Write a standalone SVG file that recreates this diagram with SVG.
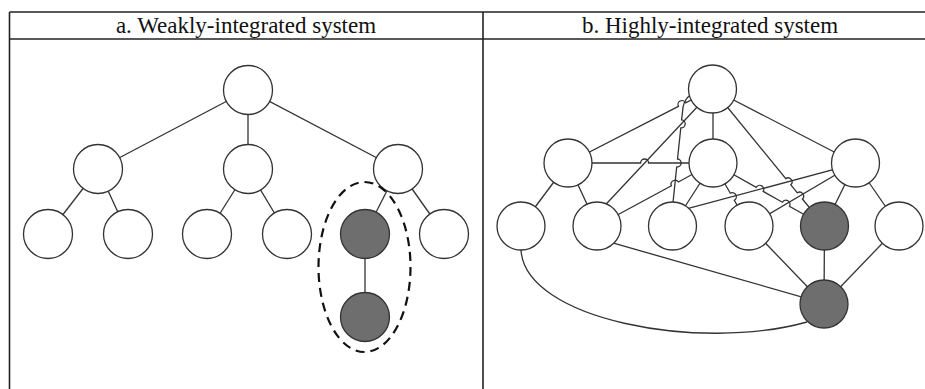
<svg xmlns="http://www.w3.org/2000/svg" width="925" height="389" viewBox="0 0 925 389">
<style>
.frame{stroke:#222;stroke-width:1.6;fill:none}
.hdr{font-family:"Liberation Serif","Times New Roman",serif;font-size:23px;fill:#111;text-anchor:middle}
.edge{stroke:#333;stroke-width:1.3;fill:none}
.node{fill:#fff;stroke:#333;stroke-width:1.3}
.dark{fill:#6e6e6e;stroke:#333;stroke-width:1.3}
.group{fill:none;stroke:#111;stroke-width:2.2;stroke-dasharray:9 6}
</style>
<rect width="925" height="389" fill="#fff"/>
<g id="frame">
<line class="frame" x1="9.5" y1="12" x2="925" y2="12"/>
<line class="frame" x1="9.5" y1="39" x2="925" y2="39"/>
<line class="frame" x1="9.5" y1="12" x2="9.5" y2="389"/>
<line class="frame" x1="483" y1="12" x2="483" y2="389"/>
<text class="hdr" x="246" y="33">a. Weakly-integrated system</text>
<text class="hdr" x="710" y="33">b. Highly-integrated system</text>
</g>
<g id="connectors">
<!-- panel a -->
<line class="edge" x1="248" y1="90" x2="98" y2="169"/>
<line class="edge" x1="248" y1="90" x2="248" y2="169"/>
<line class="edge" x1="248" y1="90" x2="398" y2="169"/>
<line class="edge" x1="98" y1="169" x2="48" y2="234"/>
<line class="edge" x1="98" y1="169" x2="128" y2="234"/>
<line class="edge" x1="248" y1="169" x2="207" y2="234"/>
<line class="edge" x1="248" y1="169" x2="287" y2="234"/>
<line class="edge" x1="398" y1="169" x2="365" y2="234"/>
<line class="edge" x1="398" y1="169" x2="444" y2="234"/>
<line class="edge" x1="365" y1="234" x2="365" y2="317"/>
<!-- panel b -->
<path class="edge" d="M568,163 L678.4,106.4 A4,4 0 0 1 685.6,102.8 L712.5,89"/>
<line class="edge" x1="713" y1="89" x2="713" y2="163"/>
<line class="edge" x1="712.5" y1="89" x2="855.5" y2="163"/>
<path class="edge" d="M714,89 L595.9,215"/>
<path class="edge" d="M689,96 Q683,101 682.5,112 L681.6,119.9 A4,4 0 0 1 680.8,127.9 L677.5,159 A4,4 0 0 1 676.7,167 L672,212"/>
<path class="edge" d="M712.5,89 L785.8,178.6 A4,4 0 0 1 790.8,184.8 L797.4,192.8 A4,4 0 0 1 802.4,199 L824.5,226"/>
<path class="edge" d="M568,163 L640.6,163 A4,4 0 0 1 648.6,163 L713,163"/>
<line class="edge" x1="568" y1="163" x2="521" y2="226"/>
<line class="edge" x1="568" y1="163" x2="597" y2="226"/>
<path class="edge" d="M597,226 L671.4,185.8 A4,4 0 0 1 678.4,182 L713,163"/>
<line class="edge" x1="713" y1="163" x2="672.5" y2="226"/>
<path class="edge" d="M713,163 L730.3,193.2 A4,4 0 0 1 734.3,200.2 L749,226"/>
<path class="edge" d="M713,163 L756.2,187.4 A4,4 0 0 1 763.2,191.4 L782.4,202.2 A4,4 0 0 1 789.4,206.2 L824.5,226"/>
<line class="edge" x1="672.5" y1="212.7" x2="855.5" y2="163.7"/>
<line class="edge" x1="749" y1="226" x2="855.5" y2="163"/>
<line class="edge" x1="855.5" y1="163" x2="824.5" y2="226"/>
<line class="edge" x1="855.5" y1="163" x2="899" y2="226"/>
<line class="edge" x1="597" y1="238.4" x2="824" y2="303.3"/>
<line class="edge" x1="749" y1="226" x2="824" y2="304"/>
<line class="edge" x1="824.5" y1="226" x2="824" y2="304"/>
<line class="edge" x1="899" y1="226" x2="824" y2="304"/>
<path class="edge" d="M521,250 C525,320 700,352 807,322"/>
</g>
<g id="a-root"><circle class="node" cx="248" cy="90" r="24.5"/></g>
<g id="a-n1"><circle class="node" cx="98" cy="169" r="24.5"/></g>
<g id="a-n2"><circle class="node" cx="248" cy="169" r="24.5"/></g>
<g id="a-n3"><circle class="node" cx="398" cy="169" r="24.5"/></g>
<g id="a-n11"><circle class="node" cx="48" cy="234" r="24.5"/></g>
<g id="a-n12"><circle class="node" cx="128" cy="234" r="24.5"/></g>
<g id="a-n21"><circle class="node" cx="207" cy="234" r="24.5"/></g>
<g id="a-n22"><circle class="node" cx="287" cy="234" r="24.5"/></g>
<g id="a-n31"><circle class="dark" cx="365" cy="234" r="24.5"/></g>
<g id="a-n32"><circle class="node" cx="444" cy="234" r="24.5"/></g>
<g id="a-n311"><circle class="dark" cx="365" cy="317" r="24.5"/></g>
<g id="a-group"><ellipse class="group" cx="364.5" cy="267" rx="46" ry="85"/></g>
<g id="b-top"><circle class="node" cx="712.5" cy="89" r="24"/></g>
<g id="b-left"><circle class="node" cx="568" cy="163" r="24"/></g>
<g id="b-mid"><circle class="node" cx="713" cy="163" r="24"/></g>
<g id="b-right"><circle class="node" cx="855.5" cy="163" r="24"/></g>
<g id="b-l1"><circle class="node" cx="521" cy="226" r="24"/></g>
<g id="b-l2"><circle class="node" cx="597" cy="226" r="24"/></g>
<g id="b-l3"><circle class="node" cx="672.5" cy="226" r="24"/></g>
<g id="b-l4"><circle class="node" cx="749" cy="226" r="24"/></g>
<g id="b-l5"><circle class="dark" cx="824.5" cy="226" r="24"/></g>
<g id="b-l6"><circle class="node" cx="899" cy="226" r="24"/></g>
<g id="b-bottom"><circle class="dark" cx="824" cy="304" r="24"/></g>
</svg>
